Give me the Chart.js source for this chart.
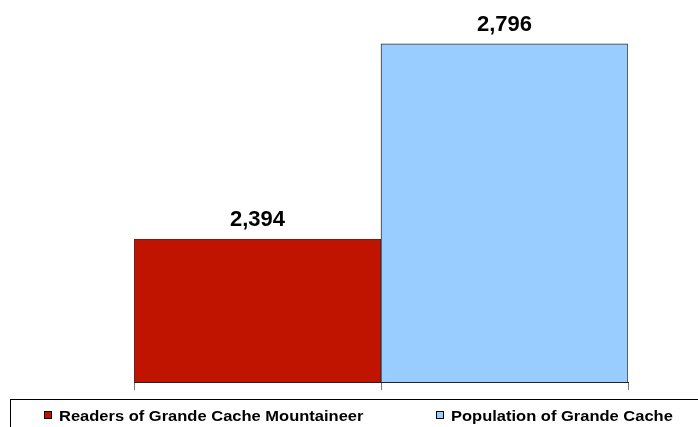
<!DOCTYPE html>
<html>
<head>
<meta charset="utf-8">
<script src="https://cdn.jsdelivr.net/npm/chart.js@4/dist/chart.umd.min.js"></script>
<style>
html,body{margin:0;padding:0;background:#fff;}
#wrap{width:698px;height:427px;position:relative;}
</style>
</head>
<body>
<div id="wrap"><canvas id="c" width="698" height="427"></canvas></div>
<script>
const categories = ['Readers of Grande Cache Mountaineer', 'Population of Grande Cache'];
const values = [2394, 2796];
const colors = ['#C01400', '#99CCFF'];
const FONT = "'Liberation Sans', Arial, sans-serif";
const legendItemX = [44, 436];

const valueLabels = {
  id: 'valueLabels',
  afterDatasetsDraw(chart) {
    const ctx = chart.ctx;
    const meta = chart.getDatasetMeta(0);
    ctx.save();
    ctx.font = 'bold 22px ' + FONT;
    ctx.fillStyle = '#000';
    ctx.textAlign = 'center';
    ctx.textBaseline = 'alphabetic';
    meta.data.forEach((bar, i) => {
      ctx.fillText(values[i].toLocaleString('en-US'), bar.x, bar.y - 13);
    });
    ctx.restore();
  }
};

const boxLegend = {
  id: 'boxLegend',
  afterDraw(chart) {
    const ctx = chart.ctx;
    ctx.save();
    ctx.strokeStyle = '#000';
    ctx.lineWidth = 1;
    ctx.strokeRect(10.5, 399.5, 720, 60);
    ctx.font = 'bold 15px ' + FONT;
    ctx.textBaseline = 'alphabetic';
    ctx.textAlign = 'left';
    categories.forEach((label, i) => {
      const x = legendItemX[i];
      ctx.fillStyle = colors[i];
      ctx.fillRect(x, 411, 8, 8);
      ctx.strokeStyle = '#000';
      ctx.strokeRect(x + 0.5, 411.5, 7, 7);
      ctx.fillStyle = '#000';
      ctx.save();
      ctx.translate(x + 15, 421);
      ctx.scale(1.1, 1);
      ctx.fillText(label, 0, 0);
      ctx.restore();
    });
    ctx.restore();
  }
};

new Chart(document.getElementById('c'), {
  type: 'bar',
  data: {
    labels: categories,
    datasets: [{
      data: values,
      backgroundColor: colors,
      borderColor: '#333333',
      borderWidth: 1,
      categoryPercentage: 1,
      barPercentage: 1
    }]
  },
  options: {
    responsive: false,
    animation: false,
    devicePixelRatio: 1,
    layout: { padding: { left: 134, right: 70, top: 42, bottom: 37 } },
    plugins: { legend: { display: false }, tooltip: { enabled: false } },
    scales: {
      x: {
        offset: true,
        ticks: { display: false },
        grid: { display: true, drawOnChartArea: false, drawTicks: true, tickLength: 8, color: '#777', offset: true },
        border: { display: true, color: '#222', width: 1 },
        afterFit(scale) { scale.height = 8; }
      },
      y: {
        display: false,
        min: 2100,
        max: 2800
      }
    }
  },
  plugins: [valueLabels, boxLegend]
});
</script>
</body>
</html>
